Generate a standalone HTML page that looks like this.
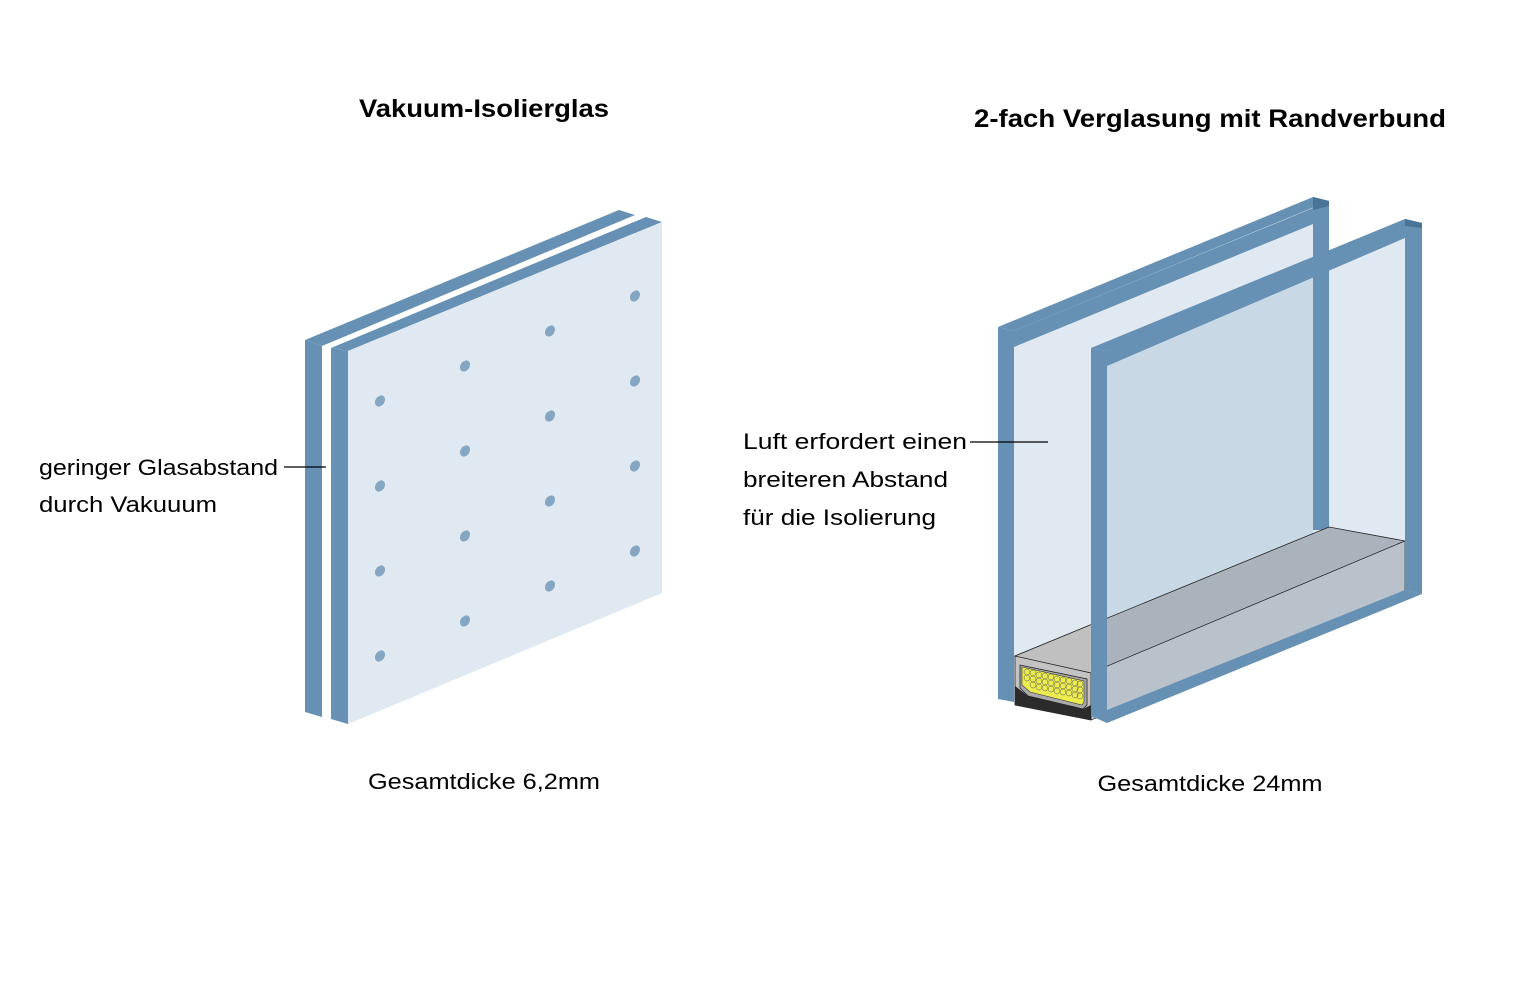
<!DOCTYPE html>
<html><head><meta charset="utf-8"><style>
html,body{margin:0;padding:0;background:#fff;width:1520px;height:1000px;overflow:hidden}
text{font-family:"Liberation Sans",sans-serif;fill:#000}
</style></head><body>
<svg width="1520" height="1000" viewBox="0 0 1520 1000" xmlns="http://www.w3.org/2000/svg">
<text x="484" y="117" font-size="25" font-weight="bold" text-anchor="middle" textLength="250" lengthAdjust="spacingAndGlyphs">Vakuum-Isolierglas</text>
<text x="1210" y="127" font-size="25" font-weight="bold" text-anchor="middle" textLength="472" lengthAdjust="spacingAndGlyphs">2-fach Verglasung mit Randverbund</text>

<!-- LEFT: vacuum glass -->
<g>
<polygon points="305,340 619,210 635,215 322,346" fill="#6690b4"/>
<polygon points="305,340 322,346 322,717 305,712" fill="#6690b4"/>
<polygon points="331,348 646,217 662,222 348,351" fill="#6690b4"/>
<polygon points="331,348 348,351 348,724 331,719" fill="#6690b4"/>
<polygon points="348,351 662,222 662,593 348,724" fill="#e0e9f1"/>
<g fill="#85a6c2">
<ellipse cx="380" cy="401" rx="4.5" ry="6" transform="rotate(35 380 401)"/>
<ellipse cx="380" cy="486" rx="4.5" ry="6" transform="rotate(35 380 486)"/>
<ellipse cx="380" cy="571" rx="4.5" ry="6" transform="rotate(35 380 571)"/>
<ellipse cx="380" cy="656" rx="4.5" ry="6" transform="rotate(35 380 656)"/>
<ellipse cx="465" cy="366" rx="4.5" ry="6" transform="rotate(35 465 366)"/>
<ellipse cx="465" cy="451" rx="4.5" ry="6" transform="rotate(35 465 451)"/>
<ellipse cx="465" cy="536" rx="4.5" ry="6" transform="rotate(35 465 536)"/>
<ellipse cx="465" cy="621" rx="4.5" ry="6" transform="rotate(35 465 621)"/>
<ellipse cx="550" cy="331" rx="4.5" ry="6" transform="rotate(35 550 331)"/>
<ellipse cx="550" cy="416" rx="4.5" ry="6" transform="rotate(35 550 416)"/>
<ellipse cx="550" cy="501" rx="4.5" ry="6" transform="rotate(35 550 501)"/>
<ellipse cx="550" cy="586" rx="4.5" ry="6" transform="rotate(35 550 586)"/>
<ellipse cx="635" cy="296" rx="4.5" ry="6" transform="rotate(35 635 296)"/>
<ellipse cx="635" cy="381" rx="4.5" ry="6" transform="rotate(35 635 381)"/>
<ellipse cx="635" cy="466" rx="4.5" ry="6" transform="rotate(35 635 466)"/>
<ellipse cx="635" cy="551" rx="4.5" ry="6" transform="rotate(35 635 551)"/>
</g>
<line x1="284" y1="467" x2="326" y2="467" stroke="#000" stroke-width="1.2"/>
<text x="39" y="475" font-size="22" textLength="239" lengthAdjust="spacingAndGlyphs">geringer Glasabstand</text>
<text x="39" y="512" font-size="22" textLength="178" lengthAdjust="spacingAndGlyphs">durch Vakuuum</text>
<text x="484" y="789" font-size="22" text-anchor="middle" textLength="232" lengthAdjust="spacingAndGlyphs">Gesamtdicke 6,2mm</text>
</g>

<!-- RIGHT: double glazing -->
<g>
<!-- back pane face -->
<polygon points="1014,331 1313,208 1313,560 1014,700" fill="#e0e9f1"/>
<!-- front pane face regions -->
<polygon points="1107,351 1405,223 1405,594 1107,720" fill="#e0e9f1"/>
<polygon points="1107,351 1313,265 1313,600 1107,700" fill="#c8d9e5"/>
<!-- back pane edges -->
<polygon points="998,327 1313,197 1329,201 1014,331" fill="#6690b4"/>
<polygon points="1014,331 1313,208 1313,224 1014,347" fill="#6690b4"/>
<polygon points="998,327 1014,331 1014,702 998,699" fill="#6690b4"/>
<polygon points="1313,197 1329,201 1329,530 1313,530" fill="#6690b4"/>
<polygon points="1313,197 1329,201 1329,206 1313,210" fill="#4a7398"/>
<!-- spacer -->
<polygon points="1015,656 1329,527 1405,541 1091,673" fill="#aab3bb" stroke="#222" stroke-width="0.8"/>
<polygon points="1015,656 1107,618 1107,666 1091,673" fill="#c0c0c0"/>
<line x1="1015" y1="656" x2="1107" y2="618" stroke="#222" stroke-width="0.8"/>
<polygon points="1091,673 1405,541 1405,592 1091,720" fill="#b9c2ca" stroke="#222" stroke-width="0.6"/>
<!-- end face -->
<polygon points="1015,656 1091,673 1091,720 1015,705" fill="#c3c3c3" stroke="#222" stroke-width="0.8"/>
<polygon points="1015,686 1028,696 1083,709 1091,705 1091,720 1015,705" fill="#2b2b2b"/>
<polygon points="1020,665 1087,679 1087,705 1083,709 1028,696 1020,688" fill="#a9a9a9" stroke="#222" stroke-width="0.8"/>
<polygon points="1022,667 1084,681 1084,702 1082,705 1030,692 1022,685" fill="#ecec50" stroke="#333" stroke-width="0.6"/>
<g fill="none" stroke="#555" stroke-width="0.5">
<circle cx="1027" cy="672" r="3"/><circle cx="1033" cy="673" r="3"/><circle cx="1039" cy="675" r="3"/><circle cx="1045" cy="676" r="3"/><circle cx="1051" cy="677" r="3"/><circle cx="1057" cy="679" r="3"/><circle cx="1063" cy="680" r="3"/><circle cx="1069" cy="681" r="3"/><circle cx="1075" cy="683" r="3"/><circle cx="1080" cy="684" r="3"/>
<circle cx="1027" cy="678" r="3"/><circle cx="1033" cy="679" r="3"/><circle cx="1039" cy="681" r="3"/><circle cx="1045" cy="682" r="3"/><circle cx="1051" cy="683" r="3"/><circle cx="1057" cy="685" r="3"/><circle cx="1063" cy="686" r="3"/><circle cx="1069" cy="687" r="3"/><circle cx="1075" cy="689" r="3"/><circle cx="1080" cy="690" r="3"/>
<circle cx="1033" cy="685" r="3"/><circle cx="1039" cy="687" r="3"/><circle cx="1045" cy="688" r="3"/><circle cx="1051" cy="689" r="3"/><circle cx="1057" cy="691" r="3"/><circle cx="1063" cy="692" r="3"/><circle cx="1069" cy="693" r="3"/><circle cx="1075" cy="695" r="3"/><circle cx="1080" cy="696" r="3"/>
</g>
<!-- front pane edges -->
<polygon points="1091,348 1405,219 1422,223 1107,351" fill="#6690b4"/>
<polygon points="1107,351 1405,223 1405,238 1107,366" fill="#6690b4"/>
<polygon points="1091,348 1107,351 1107,723 1091,716" fill="#6690b4"/>
<polygon points="1405,219 1422,223 1422,594 1405,590" fill="#6690b4"/>
<polygon points="1405,219 1422,223 1422,228 1405,226" fill="#4a7398"/>
<polygon points="1107,710 1405,590 1422,594 1107,723" fill="#6690b4"/>
<polygon points="1313,246 1329,240 1329,255 1313,262" fill="#6690b4"/>
<line x1="970" y1="442" x2="1048" y2="442" stroke="#000" stroke-width="1.2"/>
<text x="743" y="449" font-size="22" textLength="224" lengthAdjust="spacingAndGlyphs">Luft erfordert einen</text>
<text x="743" y="487" font-size="22" textLength="205" lengthAdjust="spacingAndGlyphs">breiteren Abstand</text>
<text x="743" y="525" font-size="22" textLength="193" lengthAdjust="spacingAndGlyphs">für die Isolierung</text>
<text x="1210" y="791" font-size="22" text-anchor="middle" textLength="225" lengthAdjust="spacingAndGlyphs">Gesamtdicke 24mm</text>
</g>
</svg>
</body></html>
